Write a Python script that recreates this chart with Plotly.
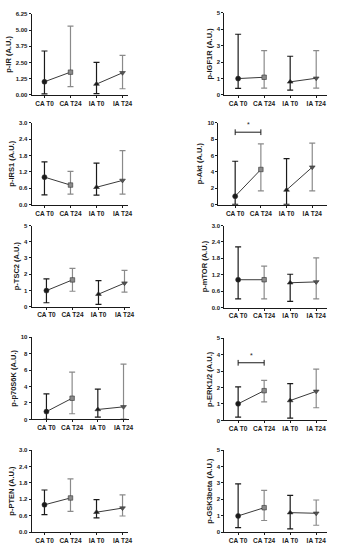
import plotly.graph_objects as go

# ---------------- data ----------------
categories = ["CA T0", "CA T24", "IA T0", "IA T24"]

panel_titles = ["p-IR (A.U.)", "p-IGF1R (A.U.)", "p-IRS1 (A.U.)", "p-Akt (A.U.)",
                "p-TSC2 (A.U.)", "p-mTOR (A.U.)", "p-p70S6K (A.U.)", "p-ERK1/2 (A.U.)",
                "p-PTEN (A.U.)", "p-GSK3beta (A.U.)"]

# central value, upper whisker, lower whisker for CA T0, CA T24, IA T0, IA T24
p_IR_mid = [1.02, 1.76, 0.84, 1.71]
p_IR_hi = [3.39, 5.30, 2.52, 3.06]
p_IR_lo = [0.08, 0.64, 0.10, 0.48]

p_IGF1R_mid = [1.00, 1.08, 0.80, 1.02]
p_IGF1R_hi = [3.70, 2.70, 2.36, 2.70]
p_IGF1R_lo = [0.40, 0.42, 0.30, 0.42]

p_IRS1_mid = [1.01, 0.72, 0.64, 0.89]
p_IRS1_hi = [1.57, 1.22, 1.52, 1.98]
p_IRS1_lo = [0.36, 0.39, 0.35, 0.39]

p_Akt_mid = [1.04, 4.30, 1.80, 4.58]
p_Akt_hi = [5.30, 7.43, 5.62, 7.50]
p_Akt_lo = [0.05, 1.69, 0.05, 1.69]

p_TSC2_mid = [0.99, 1.65, 0.77, 1.45]
p_TSC2_hi = [1.71, 2.36, 1.61, 2.24]
p_TSC2_lo = [0.24, 0.95, 0.14, 0.89]

p_mTOR_mid = [1.02, 1.02, 0.91, 0.94]
p_mTOR_hi = [2.22, 1.52, 1.22, 1.82]
p_mTOR_lo = [0.32, 0.32, 0.23, 0.32]

p_p70S6K_mid = [0.95, 2.58, 1.21, 1.53]
p_p70S6K_hi = [3.10, 5.77, 3.70, 6.73]
p_p70S6K_lo = [0.02, 0.69, 0.28, 0.04]

p_ERK_mid = [1.01, 1.81, 1.21, 1.77]
p_ERK_hi = [2.04, 2.44, 2.24, 3.12]
p_ERK_lo = [0.20, 1.13, 0.14, 0.77]

p_PTEN_mid = [1.00, 1.25, 0.73, 0.88]
p_PTEN_hi = [1.54, 1.95, 1.19, 1.36]
p_PTEN_lo = [0.64, 0.76, 0.52, 0.59]

p_GSK3_mid = [0.99, 1.49, 1.19, 1.15]
p_GSK3_hi = [2.94, 2.54, 2.24, 1.96]
p_GSK3_lo = [0.28, 0.71, 0.20, 0.42]

y_max = [6.25, 5, 3.0, 10, 5, 3.0, 10, 5, 3.0, 5]
y_dtick = [1.25, 1, 0.6, 2, 1, 0.6, 2, 1, 0.6, 1]
y_fmt = [".2f", "d", ".1f", "d", "d", ".1f", "d", "d", ".1f", "d"]

# significance brackets: panel index, y of bar
sig_panels = [3, 7]
sig_levels = [8.84, 3.51]

mids = [p_IR_mid, p_IGF1R_mid, p_IRS1_mid, p_Akt_mid, p_TSC2_mid,
        p_mTOR_mid, p_p70S6K_mid, p_ERK_mid, p_PTEN_mid, p_GSK3_mid]
his = [p_IR_hi, p_IGF1R_hi, p_IRS1_hi, p_Akt_hi, p_TSC2_hi,
       p_mTOR_hi, p_p70S6K_hi, p_ERK_hi, p_PTEN_hi, p_GSK3_hi]
los = [p_IR_lo, p_IGF1R_lo, p_IRS1_lo, p_Akt_lo, p_TSC2_lo,
       p_mTOR_lo, p_p70S6K_lo, p_ERK_lo, p_PTEN_lo, p_GSK3_lo]

# ---------------- layout geometry (pixels) ----------------
W, H = 337, 550
# axis x0, first category x, last category x, axis end x, top y, bottom y
geom = [
    (32, 45, 124, 130, 11, 93),
    (227, 241, 320, 331, 10, 93),
    (32, 45, 124, 130, 121, 204),
    (221, 238, 316, 331, 121, 204),
    (32, 47, 126, 132, 225, 307),
    (227, 241, 320, 331, 225, 308),
    (32, 47, 125, 131, 338, 421),
    (227, 241, 320, 331, 339, 422),
    (32, 45, 124, 130, 452, 535),
    (227, 241, 320, 331, 452, 535),
]

FONT = "Liberation Sans, Arial, sans-serif"
DARK = "#1a1a1a"
GREY = "#8a8a8a"
pt_colors = [DARK, GREY, DARK, "#555555"]
bar_colors = [DARK, GREY, DARK, GREY]
symbols = ["circle", "square", "triangle-up", "triangle-down"]

fig = go.Figure()
layout = dict(
    width=W, height=H, margin=dict(l=0, r=0, t=0, b=0),
    paper_bgcolor="white", plot_bgcolor="white", showlegend=False,
    font=dict(family=FONT, color=DARK),
)
shapes = []
annotations = []

for i in range(10):
    n = "" if i == 0 else str(i + 1)
    xa, ya = "x" + n, "y" + n
    ax0, c0, c3, ax1, ty, by = geom[i]
    sp = (c3 - c0) / 3.0
    xr = [-(c0 - ax0) / sp, 3 + (ax1 - c3) / sp]
    mid, hi, lo = mids[i], his[i], los[i]

    # connecting lines
    for a, b in [(0, 1), (2, 3)]:
        fig.add_trace(go.Scatter(
            x=[categories[a], categories[b]], y=[mid[a], mid[b]], mode="lines",
            line=dict(color="#3a3a3a", width=1), xaxis=xa, yaxis=ya, hoverinfo="skip"))
    # points with asymmetric error bars
    for k in range(4):
        fig.add_trace(go.Scatter(
            x=[categories[k]], y=[mid[k]], mode="markers",
            marker=dict(symbol=symbols[k], size=5 if k != 1 else 4.5, color=pt_colors[k],
                        line=dict(color="#333333", width=0.6)),
            error_y=dict(type="data", symmetric=False,
                         array=[hi[k] - mid[k]], arrayminus=[mid[k] - lo[k]],
                         color=bar_colors[k], thickness=1.2, width=3),
            xaxis=xa, yaxis=ya))

    layout["xaxis" + n] = dict(
        domain=[ax0 / W, ax1 / W], range=xr, anchor=ya, type="category",
        categoryorder="array", categoryarray=categories,
        showline=True, linecolor=DARK, linewidth=1, ticks="outside", ticklen=2,
        tickcolor=DARK, tickwidth=1, showgrid=False, zeroline=False,
        tickfont=dict(family=FONT, size=6.5, color=DARK, weight="bold"),
        fixedrange=True)
    layout["yaxis" + n] = dict(
        domain=[1 - by / H, 1 - ty / H], range=[0, y_max[i]], anchor=xa,
        dtick=y_dtick[i], tick0=0, tickformat=y_fmt[i],
        showline=True, linecolor=DARK, linewidth=1, ticks="outside", ticklen=2,
        tickcolor=DARK, tickwidth=1, showgrid=False, zeroline=False,
        tickfont=dict(family=FONT, size=6, color=DARK, weight="bold"),
        title=dict(text=panel_titles[i], standoff=3,
                   font=dict(family=FONT, size=7.5, color=DARK, weight="bold")),
        fixedrange=True)

# significance brackets
for p, lev in zip(sig_panels, sig_levels):
    n = "" if p == 0 else str(p + 1)
    xa, ya = "x" + n, "y" + n
    ymx = y_max[p]
    cap = ymx * 0.035
    shapes.append(dict(type="line", xref=xa, yref=ya, x0=0, x1=1, y0=lev, y1=lev,
                       line=dict(color=DARK, width=1)))
    for xx in [0, 1]:
        shapes.append(dict(type="line", xref=xa, yref=ya, x0=xx, x1=xx,
                           y0=lev - cap, y1=lev + cap, line=dict(color=DARK, width=1)))
    annotations.append(dict(x=0.5, y=lev + cap * 0.6, xref=xa, yref=ya, text="*",
                            showarrow=False, yanchor="bottom",
                            font=dict(family=FONT, size=7, color=DARK)))

layout["shapes"] = shapes
layout["annotations"] = annotations
fig.update_layout(**layout)
fig.write_html("out.html", config={"displayModeBar": False},
               post_script="document.body.style.margin='0';document.body.style.padding='0';")
